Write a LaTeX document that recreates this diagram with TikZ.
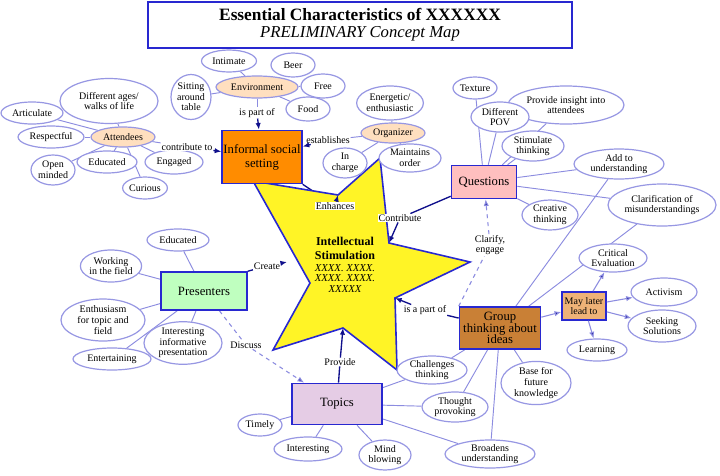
\documentclass[tikz,border=0pt]{standalone}
\usepackage{fontspec}
\setmainfont{Liberation Serif}
\usetikzlibrary{arrows.meta,shapes.geometric}
\definecolor{edge}{HTML}{8C8CE0}
\definecolor{arr}{HTML}{10108C}
\definecolor{bord}{HTML}{2828D0}
\pgfdeclarelayer{bg}
\pgfsetlayers{bg,main}
\tikzset{
 x=0.75pt,y=-0.75pt,
 ell/.style={ellipse,draw=edge!90,line width=0.9pt,fill=white,inner sep=0pt,align=center,font=\fontsize{7.5}{8}\selectfont},
 cbox/.style={rectangle,draw=bord,line width=1.2pt,align=center,font=\fontsize{9.5}{10.5}\selectfont,inner sep=1pt},
 lbl/.style={fill=white,inner sep=0.5pt,font=\fontsize{7.5}{8}\selectfont,align=center},
 ln/.style={draw=edge,line width=0.7pt},
 ar/.style={draw=arr,line width=1pt,-{Latex[length=5pt,width=4pt]}},
 dl/.style={dashed,draw=edge,line width=0.8pt},
 tip/.style={-{Latex[length=5pt,width=4pt,fill=arr]}},
}
\begin{document}
\begin{tikzpicture}
\useasboundingbox (0,0) rectangle (720,475);
% title
\node[draw=bord,line width=1.5pt,minimum width=424*0.75pt,minimum height=46*0.75pt,align=center] (title) at (360,25)
 {{\fontsize{13}{14}\selectfont\bfseries Essential Characteristics of XXXXXX}\\[1pt]{\fontsize{12.5}{13}\selectfont\itshape PRELIMINARY Concept Map}};
% star
\coordinate (sT) at (380,158);
\coordinate (sI1) at (389,243);
\coordinate (sR) at (470,262);
\coordinate (sI2) at (395,298);
\coordinate (sBR) at (397,370);
\coordinate (sI3) at (343,328);
\coordinate (sBL) at (273,350);
\coordinate (sI4) at (310,283);
\coordinate (sL) at (253,181);
\coordinate (sI5) at (338,195);
\coordinate (sCr) at (287,262);
\draw[fill=yellow!85!white,draw=bord,line width=1.2pt] (sT)--(sI1)--(sR)--(sI2)--(sBR)--(sI3)--(sBL)--(sI4)--(sL)--(sI5)--cycle;
\node[align=center,font=\fontsize{9}{10}\selectfont] (star) at (345,265) {\textbf{Intellectual}\\\textbf{Stimulation}\\[-1pt]{\itshape\fontsize{8}{8.5}\selectfont XXXX. XXXX.}\\[-2pt]{\itshape\fontsize{8}{8.5}\selectfont XXXX. XXXX.}\\[-2pt]{\itshape\fontsize{8}{8.5}\selectfont XXXXX}};
% boxes
\node[cbox,fill=orange!90!yellow,minimum width=79*0.75pt,minimum height=53*0.75pt] (inf) at (262,157) {Informal social\\setting};
\node[cbox,fill=red!25,minimum width=65*0.75pt,minimum height=33*0.75pt] (que) at (484,182) {Questions};
\node[cbox,fill=green!25,minimum width=86*0.75pt,minimum height=38*0.75pt] (pre) at (204,291) {Presenters};
\node[cbox,fill=violet!20,minimum width=90*0.75pt,minimum height=41*0.75pt] (top) at (337,404) {Topics};
\node[cbox,fill=brown!85!orange,minimum width=81*0.75pt,minimum height=42*0.75pt] (grp) at (500,328) {Group\\[-2pt]thinking about\\[-2pt]ideas};
\node[cbox,fill=brown!45!orange!60,minimum width=44*0.75pt,minimum height=28*0.75pt,font=\fontsize{7.5}{8}\selectfont] (may) at (584,306) {May later\\lead to};
% ellipses
\newcommand{\el}[5]{\node[ell,minimum width=#3*0.75pt,minimum height=#4*0.75pt] (#1) at (#2) {#5};}
\node[ell,fill=orange!25,minimum width=82*0.75pt,minimum height=22*0.75pt] (env) at (257,87) {Environment};
\el{intim}{229,61}{55}{22}{Intimate}
\el{beer}{293,65}{44}{24}{Beer}
\el{free}{323,86}{44}{24}{Free}
\el{food}{308,109}{44}{24}{Food}
\el{sit}{191,97}{40}{45}{Sitting\\around\\table}
\node[ell,fill=orange!25,minimum width=64*0.75pt,minimum height=20*0.75pt] (att) at (123,137) {Attendees};
\el{diff}{109,101}{98}{45}{Different ages/\\walks of life}
\el{artic}{32,113}{62}{22}{Articulate}
\el{resp}{51,137}{66}{22}{Respectful}
\el{open}{53,170}{44}{30}{Open\\minded}
\el{educ}{107,162}{60}{22}{Educated}
\el{eng}{174,162}{58}{24}{Engaged}
\el{cur}{145,188}{44}{22}{Curious}
\node[ell,fill=orange!25,minimum width=64*0.75pt,minimum height=20*0.75pt] (org) at (393,133) {Organizer};
\el{ener}{390,103}{64}{34}{Energetic/\\enthusiastic}
\el{inch}{345,163}{44}{30}{In\\charge}
\el{maint}{410,158}{62}{28}{Maintains\\order}
\el{tex}{475,88}{44}{22}{Texture}
\el{ins}{566,105}{116}{38}{Provide insight into\\attendees}
\el{pov}{500,117}{58}{30}{Different\\POV}
\el{stim}{533,146}{62}{30}{Stimulate\\thinking}
\el{add}{619,164}{90}{30}{Add to\\understanding}
\el{crea}{550,215}{56}{30}{Creative\\thinking}
\el{clar}{662,205}{108}{42}{Clarification of\\misunderstandings}
\el{peduc}{178,240}{62}{22}{Educated}
\el{work}{111,266}{58}{32}{Working\\in the field}
\el{enth}{103,320}{84}{42}{Enthusiasm\\for topic and\\field}
\el{ent}{112,359}{78}{22}{Entertaining}
\el{intinf}{183,343}{78}{42}{Interesting\\informative\\presentation}
\el{time}{260,425}{44}{22}{Timely}
\el{inter}{308,449}{68}{24}{Interesting}
\el{mind}{385,455}{52}{30}{Mind\\blowing}
\el{broad}{490,454}{90}{28}{Broadens\\understanding}
\el{thou}{455,407}{66}{30}{Thought\\provoking}
\el{chal}{432,370}{70}{28}{Challenges\\thinking}
\el{base}{536,383}{70}{42}{Base for\\future\\knowledge}
\el{crit}{613,258}{68}{28}{Critical\\Evaluation}
\el{act}{664,292}{66}{28}{Activism}
\el{seek}{662,326}{68}{32}{Seeking\\Solutions}
\el{learn}{597,350}{60}{22}{Learning}
% labels
\node[lbl] (l1) at (257,113) {is part of};
\node[lbl] (l2) at (187,147) {contribute to};
\node[lbl] (l3) at (328,140) {establishes};
\node[lbl] (l4) at (335,206) {Enhances};
\node[lbl] (l5) at (400,218) {Contribute};
\node[lbl] (l6) at (490,245) {Clarify,\\engage};
\node[lbl] (l7) at (425,310) {is a part of};
\node[lbl] (l8) at (267,266) {Create};
\node[lbl] (l9) at (246,345) {Discuss};
\node[lbl] (l10) at (340,362) {Provide};
\begin{pgfonlayer}{bg}
\fill[white] (0,0) rectangle (720,475);
\draw[ln] (env)--(l1);
\draw[ln] (att)--(l2);
\draw[ln] (org)--(l3);
\draw[draw=arr,line width=1pt] (inf)--(l4);
\draw[draw=arr,line width=1pt] (que)--(l5);
\draw[dl] (grp.north west)--(l6);
\draw[draw=arr,line width=1pt] (grp)--(l7);
\draw[draw=arr,line width=1pt] (pre.north east)--(l8);
\draw[dl] (pre)--(l9);
\draw[draw=arr,line width=1pt] (top)--(l10);
\foreach \a/\b in {env/intim,env/sit,env/free,env/food,att/diff,att/artic,att/resp,att/open,att/educ,att/eng,att/cur,
 org/ener,org/inch,org/maint,que/tex,que/pov,que/ins,que/stim,que/add,que/crea,que/clar,
 pre/peduc,pre/work,pre/enth,pre/ent,pre/intinf,top/time,top/inter,top/mind,top/broad,top/thou,top/chal,
 grp/chal,grp/thou,grp/broad,grp/base,grp/add,grp/clar}
 \draw[ln] (\a)--(\b);
\end{pgfonlayer}
% arrows
\draw[ar] (l1)--(inf);
\draw[ar] (l2)--(inf);
\draw[ar] (l3)--(inf);
\draw[ar] (l4)--(sI5);
\draw[ar] (l5)--(sI1);
\draw[dl,tip] (l6)--(que);
\draw[ar] (l7)--(sI2);
\draw[ar] (l8)--(sCr);
\draw[dl,tip] (l9)--(top);
\draw[ar] (l10)--(sI3);
\draw[draw=edge,line width=0.8pt,tip] (grp)--(may);
\foreach \t in {crit,act,seek,learn} \draw[draw=edge,line width=0.8pt,tip] (may)--(\t);
\end{tikzpicture}
\end{document}
